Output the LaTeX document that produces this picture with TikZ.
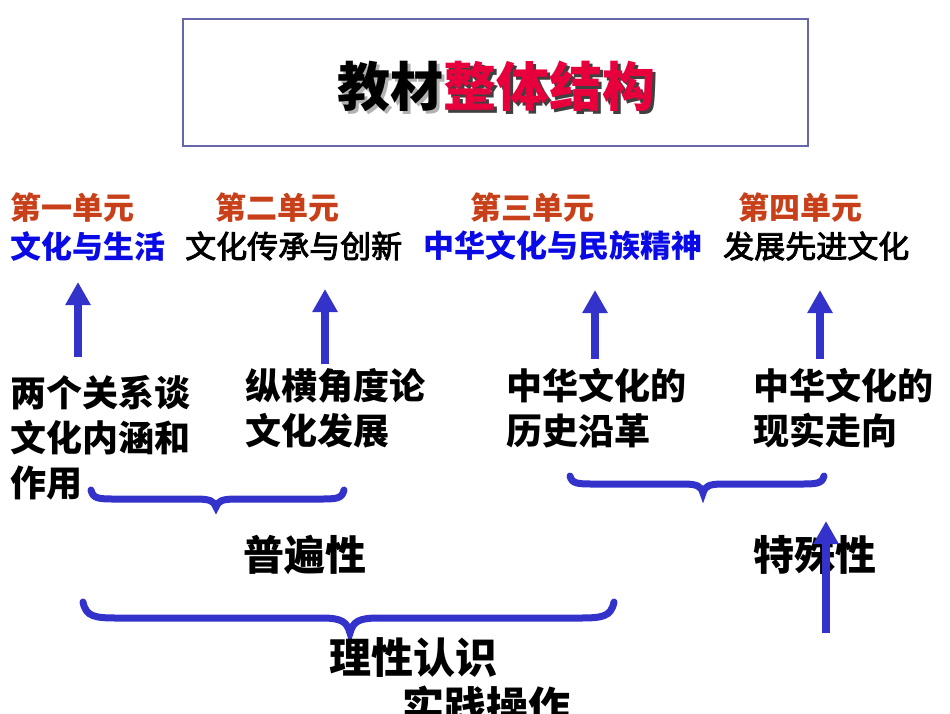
\documentclass[tikz,border=0pt]{standalone}
\usepackage{fontspec}
\setmainfont{Noto Sans CJK SC}
\newfontfamily\medfont{Noto Sans CJK SC}[FakeBold=3]
\usepackage{xcolor}
\usepackage{tikz}
\usetikzlibrary{positioning, arrows.meta}
\definecolor{unitorange}{RGB}{200, 64, 26}
\definecolor{titlered}{RGB}{232, 0, 61}
\definecolor{topicblue}{RGB}{10, 10, 230}
\definecolor{arrowblue}{RGB}{51, 51, 204}
\definecolor{boxframe}{RGB}{102, 102, 170}

\begin{document}
\begin{tikzpicture}[
  x=1pt, y=-1pt,
  inner sep=0pt,
  frame/.style={draw=boxframe, line width=1.2pt, minimum width=625pt, minimum height=127pt},
  titletext/.style={font=\fontsize{53}{60}\selectfont\bfseries},
  unit/.style={anchor=west, text=unitorange, font=\fontsize{31}{37}\selectfont\bfseries},
  topic/.style={anchor=west, font=\medfont\fontsize{31}{37}\selectfont},
  topicb/.style={topic, text=topicblue, font=\fontsize{31}{37}\selectfont\bfseries},
  idea/.style={anchor=west, align=left, font=\fontsize{36}{45}\selectfont\bfseries},
  summary/.style={font=\fontsize{41}{48}\selectfont\bfseries},
  upline/.style={draw=arrowblue, line width=8pt, -{Triangle[width=24pt, length=23pt]}},
  bracepath/.style={draw=arrowblue, line width=7pt, line cap=round}
]
\useasboundingbox (0,0) rectangle (950,713);

% title
\node[frame] (frame) at (495.5,82.5) {};
\node[titletext, text=gray!60] (titleshadow) at (499,89) {教材\textcolor{black!75}{整体结构}};
\node[titletext] (title) at (496,86) {教材\textcolor{titlered}{整体结构}};

% units
\node[unit] (u1) at (10,208) {第一单元};
\node[unit] (u2) at (215,208) {第二单元};
\node[unit] (u3) at (470,208) {第三单元};
\node[unit] (u4) at (738,208) {第四单元};

\node[topicb] (t1) at (10,246) {文化与生活};
\node[topic] (t2) at (185,246) {文化传承与创新};
\node[topicb] (t3) at (423,246) {中华文化与民族精神};
\node[topic] (t4) at (723,246) {发展先进文化};

% contents
\node[idea] (c1) at (10,438) {两个关系谈\\文化内涵和\\作用};
\node[idea] (c2) at (245,408) {纵横角度论\\文化发展};
\node[idea] (c3) at (506,408) {中华文化的\\历史沿革};
\node[idea] (c4) at (753,408) {中华文化的\\现实走向};

\coordinate (a1b) at (78,357);
\coordinate (a1t) at (78,282);
\coordinate (a2b) at (325,364);
\coordinate (a2t) at (325,289);
\coordinate (a3b) at (595,359);
\coordinate (a3t) at (595,290);
\coordinate (a4b) at (820,359);
\coordinate (a4t) at (820,290);
\draw[upline] (a1b) -- (a1t);
\draw[upline] (a2b) -- (a2t);
\draw[upline] (a3b) -- (a3t);
\draw[upline] (a4b) -- (a4t);

% braces
\draw[bracepath] (91,490) .. controls (93,499) and (99,499) .. (116,499)
  -- (196,499) .. controls (210,499) and (214,501) .. (216,507)
  .. controls (218,501) and (222,499) .. (236,499)
  -- (319,499) .. controls (336,499) and (342,499) .. (344,490);
\draw[bracepath] (570,476) .. controls (572,484) and (578,484) .. (595,484)
  -- (683,484) .. controls (697,484) and (701,486) .. (703,493)
  .. controls (705,486) and (709,484) .. (723,484)
  -- (799,484) .. controls (816,484) and (822,484) .. (824,476);
\draw[bracepath] (83,602) .. controls (86,617) and (95,618) .. (118,618)
  -- (322,618) .. controls (342,618) and (347,622) .. (350,633)
  .. controls (353,622) and (358,618) .. (378,618)
  -- (579,618) .. controls (602,618) and (611,617) .. (614,602);

% summary
\node[summary] (general) at (305,555) {普遍性};
\node[summary] (special) at (815,555) {特殊性};
\node[summary, font=\fontsize{42}{48}\selectfont\bfseries] (theory) at (413,658) {理性认识};
\node[summary, font=\fontsize{42}{48}\selectfont\bfseries] (practice) at (486,706) {实践操作};

\coordinate (a5b) at (826,633);
\coordinate (a5t) at (826,521);
\draw[upline] (a5b) -- (a5t);
\end{tikzpicture}
\end{document}
